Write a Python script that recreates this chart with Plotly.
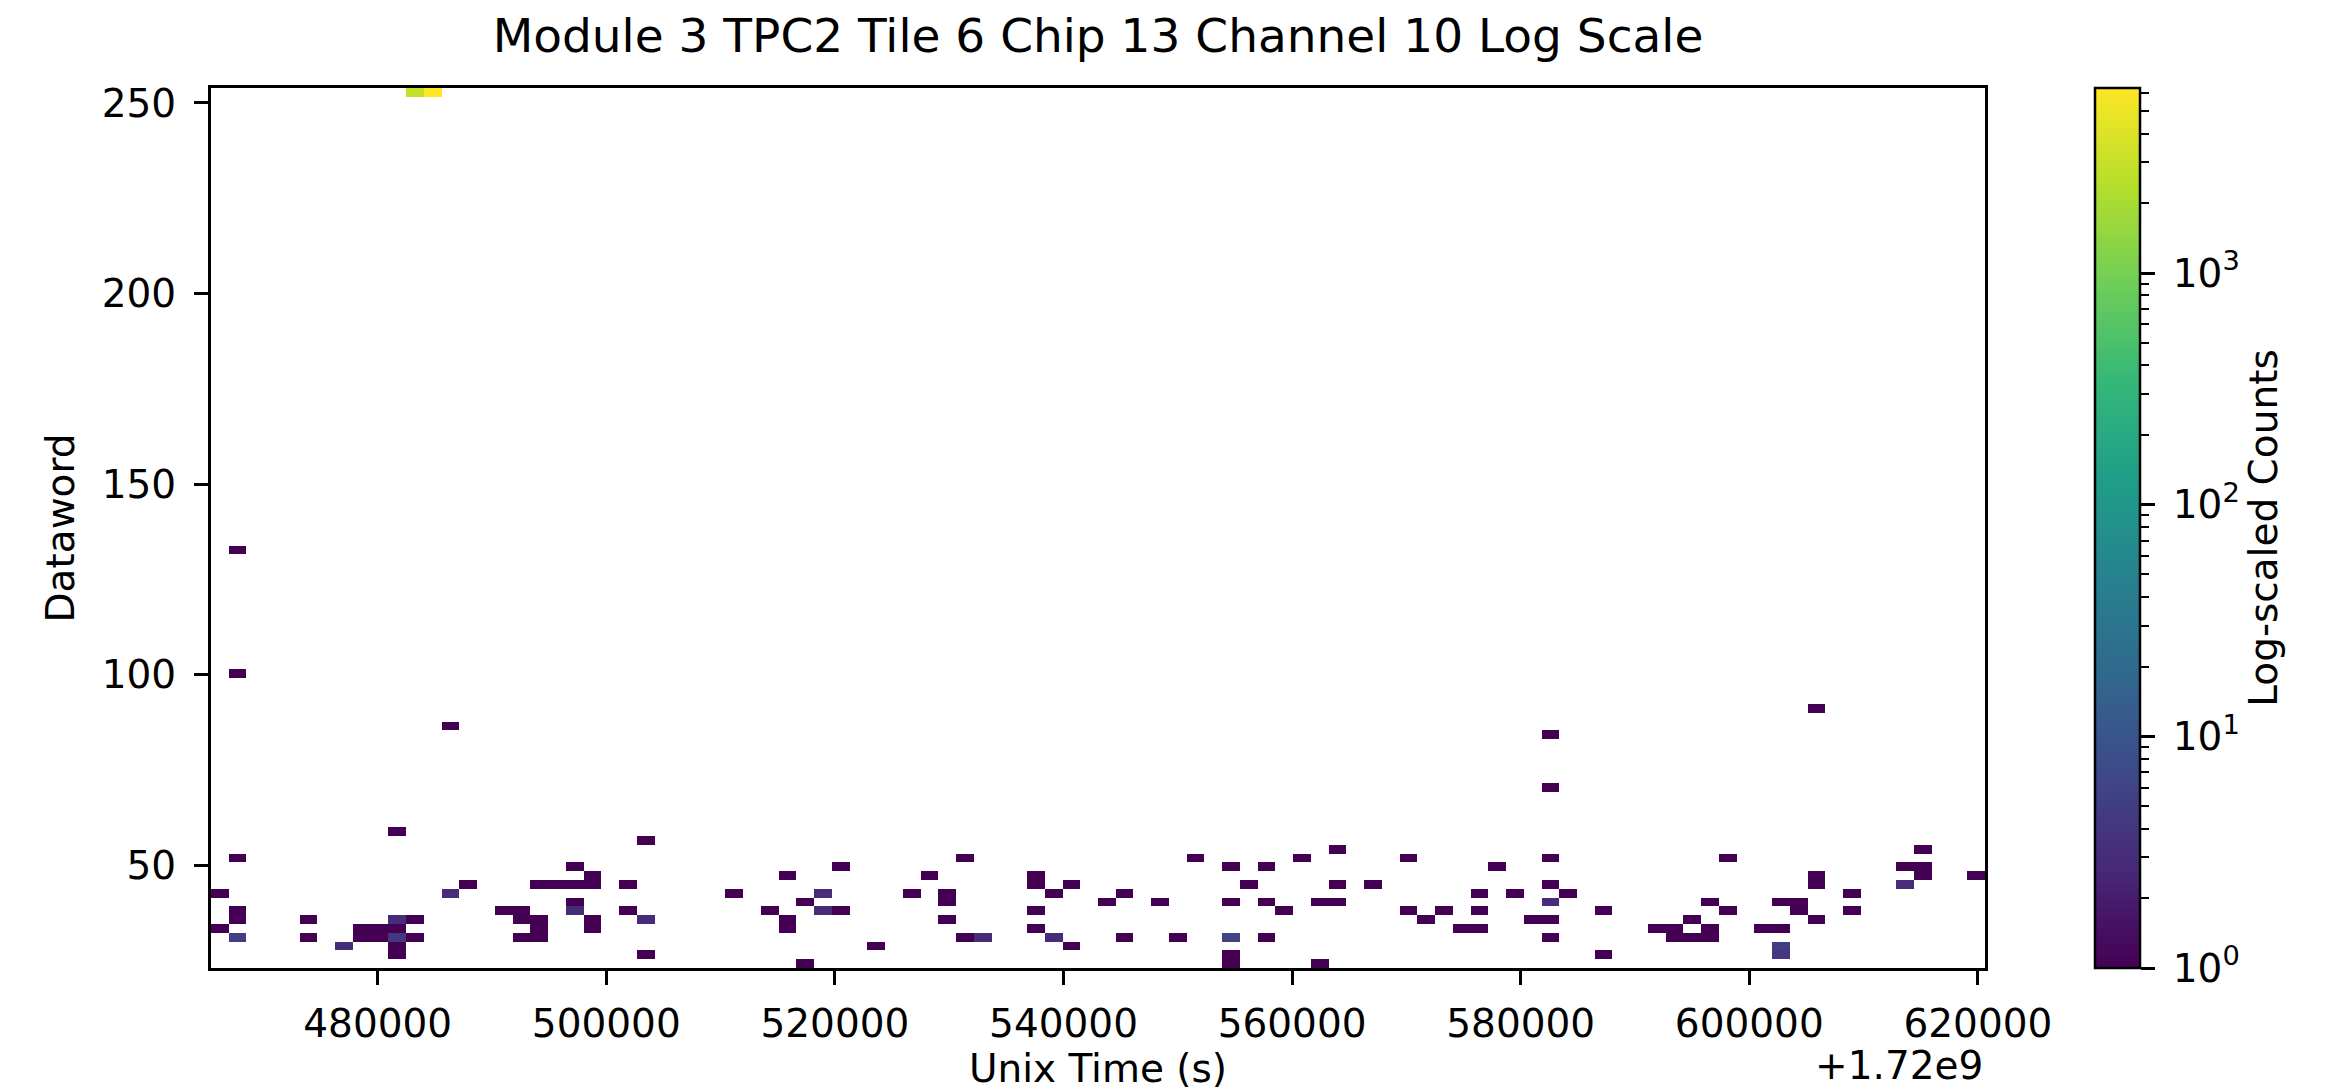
import numpy as np
import plotly.graph_objects as go

# ---- data: non-empty histogram cells (unix time, dataword, counts) ----
time_s = [
    1720466192, 1720466192,
    1720467744, 1720467744, 1720467744, 1720467744, 1720467744, 1720467744,
    1720473952, 1720473952,
    1720477056,
    1720478608, 1720478608,
    1720480160, 1720480160,
    1720481712, 1720481712, 1720481712, 1720481712, 1720481712, 1720481712,
    1720483265, 1720483265, 1720483265,
    1720484817,
    1720486369, 1720486369,
    1720487921,
    1720491025,
    1720492577, 1720492577, 1720492577,
    1720494129, 1720494129, 1720494129, 1720494129,
    1720495681,
    1720497233, 1720497233, 1720497233, 1720497233,
    1720498785, 1720498785, 1720498785, 1720498785,
    1720501889, 1720501889,
    1720503441, 1720503441, 1720503441,
    1720511201,
    1720514306,
    1720515858, 1720515858, 1720515858,
    1720517410, 1720517410,
    1720518962, 1720518962,
    1720520514, 1720520514,
    1720523618,
    1720526722,
    1720528274,
    1720529826, 1720529826, 1720529826,
    1720531378, 1720531378,
    1720532930,
    1720537586, 1720537586, 1720537586, 1720537586,
    1720539138, 1720539138,
    1720540690, 1720540690,
    1720543795,
    1720545347, 1720545347,
    1720548451,
    1720550003,
    1720551555,
    1720554659, 1720554659, 1720554659, 1720554659, 1720554659,
    1720556211,
    1720557763, 1720557763, 1720557763,
    1720559315,
    1720560867,
    1720562419, 1720562419,
    1720563971, 1720563971, 1720563971,
    1720567075,
    1720570179, 1720570179,
    1720571731,
    1720573283,
    1720574836,
    1720576388, 1720576388, 1720576388,
    1720577940,
    1720579492,
    1720581044,
    1720582596, 1720582596, 1720582596, 1720582596, 1720582596, 1720582596, 1720582596,
    1720584148,
    1720587252, 1720587252,
    1720591908,
    1720593460, 1720593460,
    1720595012, 1720595012,
    1720596564, 1720596564, 1720596564,
    1720598116, 1720598116,
    1720601220,
    1720602772, 1720602772, 1720602772, 1720602772,
    1720604324, 1720604324,
    1720605876, 1720605876, 1720605876, 1720605876,
    1720608981, 1720608981,
    1720613637, 1720613637,
    1720615189, 1720615189, 1720615189,
    1720619845,
]
dataword = [
    43, 33,
    133, 100, 52, 38, 36, 31,
    36, 31,
    29,
    33, 31,
    33, 31,
    59, 36, 33, 31, 29, 27,
    36, 31, 253,
    253,
    87, 43,
    45,
    38,
    38, 36, 31,
    45, 36, 33, 31,
    45,
    50, 45, 40, 38,
    47, 45, 36, 33,
    45, 38,
    57, 36, 27,
    43,
    38,
    47, 36, 33,
    40, 24,
    43, 38,
    50, 38,
    29,
    43,
    47,
    43, 40, 36,
    52, 31,
    31,
    47, 45, 38, 33,
    43, 31,
    45, 29,
    40,
    43, 31,
    40,
    31,
    52,
    50, 40, 31, 27, 24,
    45,
    50, 40, 31,
    38,
    52,
    40, 24,
    54, 45, 40,
    45,
    52, 38,
    36,
    38,
    33,
    43, 38, 33,
    50,
    43,
    36,
    84, 70, 52, 45, 40, 36, 31,
    43,
    38, 27,
    33,
    33, 31,
    36, 31,
    40, 33, 31,
    52, 38,
    33,
    40, 33, 29, 27,
    40, 38,
    91, 47, 45, 36,
    43, 38,
    50, 45,
    54, 50, 47,
    47,
]
counts = [
    1, 1,
    1, 1, 1, 1, 1, 5,
    1, 1,
    3,
    1, 1,
    1, 1,
    1, 3, 1, 4, 1, 1,
    1, 1, 3000,
    6290,
    1, 3,
    1,
    1,
    1, 1, 1,
    1, 1, 1, 1,
    1,
    1, 1, 1, 3,
    1, 1, 1, 1,
    1, 1,
    1, 3, 1,
    1,
    1,
    1, 1, 1,
    1, 1,
    3, 3,
    1, 1,
    1,
    1,
    1,
    1, 1, 1,
    1, 1,
    3,
    1, 1, 1, 1,
    1, 3,
    1, 1,
    1,
    1, 1,
    1,
    1,
    1,
    1, 1, 6, 1, 1,
    1,
    1, 1, 1,
    1,
    1,
    1, 1,
    1, 1, 1,
    1,
    1, 1,
    1,
    1,
    1,
    1, 1, 1,
    1,
    1,
    1,
    1, 1, 1, 1, 3, 1, 1,
    1,
    1, 1,
    1,
    1, 1,
    1, 1,
    1, 1, 1,
    1, 1,
    1,
    1, 1, 5, 4,
    1, 1,
    1, 1, 1, 1,
    1, 1,
    1, 3,
    1, 1, 1,
    1,
]

x_tick_vals = [1720480000, 1720500000, 1720520000, 1720540000,
               1720560000, 1720580000, 1720600000, 1720620000]
x_tick_text = ["480000", "500000", "520000", "540000",
               "560000", "580000", "600000", "620000"]
y_tick_vals = [50, 100, 150, 200, 250]
cbar_major = [1, 10, 100, 1000]
cbar_major_text = ["10<sup>0</sup>", "10<sup>1</sup>", "10<sup>2</sup>", "10<sup>3</sup>"]

# ---- histogram settings ----
X_RANGE = (1720465416, 1720620621)
Y_RANGE = (23.05, 253.9)
N_BINS = 100
VMAX = 6290

x_edges = np.linspace(X_RANGE[0], X_RANGE[1], N_BINS + 1)
y_edges = np.linspace(Y_RANGE[0], Y_RANGE[1], N_BINS + 1)
H, _, _ = np.histogram2d(time_s, dataword, bins=[x_edges, y_edges], weights=counts)
Z = np.where(H > 0, np.log10(np.where(H > 0, H, 1)), np.nan).T

W, HGT = 2326, 1089
ML, MR, MT, MB = 203, 20, 80, 129
paper_w = W - ML - MR
plot_right = 1774
cb_left = 2087
cb_w = 45

FONT = "DejaVu Sans"
TICK_FS = 39

minor_vals = []
for d in range(0, 4):
    for k in range(2, 10):
        v = k * 10 ** d
        if v <= VMAX:
            minor_vals.append(float(np.log10(v)))

fig = go.Figure()
fig.add_trace(go.Heatmap(
    x=x_edges, y=y_edges, z=Z,
    colorscale="Viridis", zmin=0, zmax=np.log10(VMAX),
    zsmooth=False, hoverongaps=False,
    colorbar=dict(
        x=(cb_left - ML) / paper_w, xanchor="left", xref="paper",
        y=0.5, yanchor="middle", len=1, lenmode="fraction",
        thickness=cb_w, thicknessmode="pixels",
        xpad=0, ypad=0, outlinewidth=2.5, outlinecolor="black",
        ticks="", showticklabels=False,
    ),
))
# invisible helper trace so the colorbar's log axis (y2) is drawn
fig.add_trace(go.Scatter(x=[X_RANGE[0]], y=[0], yaxis="y2", mode="markers",
                         marker=dict(opacity=0), showlegend=False,
                         hoverinfo="skip"))

fig.update_layout(
    width=W, height=HGT,
    margin=dict(l=ML, r=MR, t=MT, b=MB, pad=0, autoexpand=False),
    paper_bgcolor="white", plot_bgcolor="white",
    font=dict(family=FONT, size=TICK_FS, color="black"),
    showlegend=False,
    title=dict(text="Module 3 TPC2 Tile 6 Chip 13 Channel 10 Log Scale",
               x=(plot_right / 2) / paper_w, xref="paper", xanchor="center",
               y=1 - 28 / HGT, yref="container", yanchor="middle",
               font=dict(size=47, family=FONT, color="black")),
    xaxis=dict(domain=[0, plot_right / paper_w], range=list(X_RANGE),
               automargin=False,
               tickvals=x_tick_vals, ticktext=x_tick_text,
               ticks="outside", ticklen=14, tickwidth=3, tickcolor="black",
               showline=True, linecolor="black", linewidth=3, mirror=True,
               showgrid=False, zeroline=False, ticklabelstandoff=5,
               title=dict(text="Unix Time (s)", standoff=6,
                          font=dict(size=TICK_FS))),
    yaxis=dict(range=list(Y_RANGE), tickvals=y_tick_vals, automargin=False,
               ticks="outside", ticklen=14, tickwidth=3, tickcolor="black",
               showline=True, linecolor="black", linewidth=3, mirror=True,
               showgrid=False, zeroline=False, ticklabelstandoff=10,
               title=dict(text="Dataword", standoff=16,
                          font=dict(size=TICK_FS))),
    yaxis2=dict(overlaying="y", anchor="free", automargin=False,
                position=(cb_left + cb_w - ML) / paper_w, side="right",
                range=[0, float(np.log10(VMAX))],
                tickvals=[float(np.log10(v)) for v in cbar_major],
                ticktext=cbar_major_text,
                ticks="outside", ticklen=14, tickwidth=3, tickcolor="black",
                minor=dict(tickvals=minor_vals, ticks="outside", ticklen=8,
                           tickwidth=2.2, tickcolor="black"),
                showline=False, showgrid=False, zeroline=False,
                ticklabelstandoff=10,
                title=dict(text="Log-scaled Counts", standoff=10,
                           font=dict(size=TICK_FS))),
    annotations=[dict(text="+1.72e9", xref="paper", x=plot_right / paper_w,
                      xanchor="right", yref="paper", y=0, yanchor="middle",
                      yshift=-97, showarrow=False,
                      font=dict(size=TICK_FS, family=FONT, color="black"))],
)

fig.write_html("out.html")
